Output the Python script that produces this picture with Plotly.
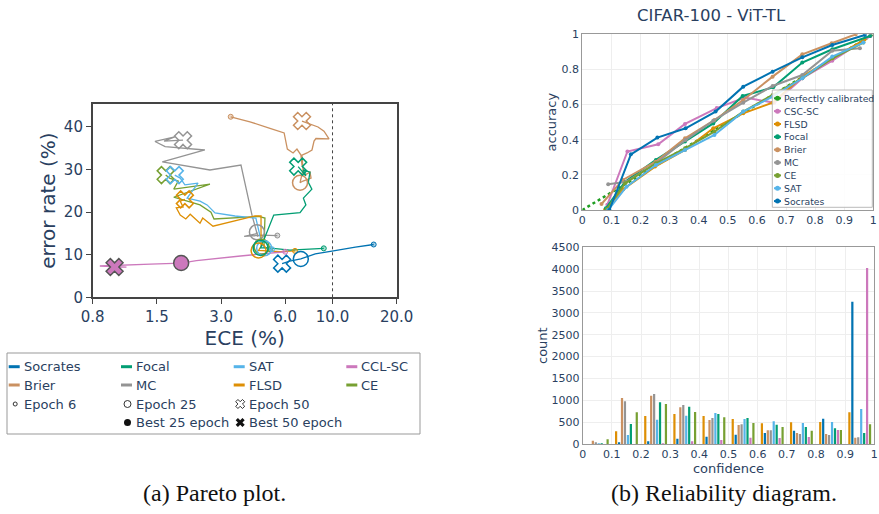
import math
import plotly.graph_objects as go

W, H = 879, 514
FONT = "DejaVu Sans"
TXT = "#2a3f5f"

COLORS = {
    "Socrates": "#0173B2", "Focal": "#029E73", "SAT": "#56B4E9", "CCL-SC": "#CC78BC",
    "Brier": "#CA9161", "MC": "#949494", "FLSD": "#DE8F05", "CE": "#77A032",
}

# ---------------- Pareto plot data (ECE %, error rate %) ----------------
socrates_ece = [15.6, 12.8, 10.1, 8.3, 7.1, 6.3, 5.8]
socrates_err = [12.4, 11.8, 10.9, 10.2, 9.0, 8.5, 7.9]
socrates_e25 = (7.1, 9.0)

cclsc_ece = [6.0, 5.1, 3.7, 2.3, 1.95, 1.4, 1.06, 0.81, 1.08, 0.95]
cclsc_err = [10.7, 10.4, 9.7, 8.6, 8.05, 7.8, 7.6, 7.35, 7.1, 7.1]
cclsc_e25 = (1.95, 8.05)

focal_ece = [9.1, 7.4, 6.3, 5.7, 5.0, 4.6, 4.77, 5.3, 7.04, 7.5, 7.3, 8.0, 7.7, 7.84, 7.3, 7.5, 6.9]
focal_err = [11.5, 11.2, 11.1, 11.3, 11.6, 11.6, 13.5, 19.3, 19.9, 21.7, 23.3, 25.4, 27.0, 29.4, 29.9, 28.5, 30.7]
focal_e25 = (4.6, 11.6)

flsd_ece = [6.67, 5.67, 4.5, 4.62, 4.62, 4.33, 2.75, 2.58, 2.46, 2.39, 2.26, 2.15, 2.05, 1.93, 1.85, 1.99, 1.93, 2.03]
flsd_err = [10.9, 10.75, 11.0, 12.0, 19.1, 19.1, 16.7, 17.7, 18.6, 17.4, 18.4, 19.5, 18.4, 19.3, 21.0, 21.2, 22.6, 23.0]
flsd_e25 = (4.5, 11.0)

sat_ece = [5.2, 4.82, 4.67, 4.37, 3.49, 2.81, 2.58, 2.39, 2.08, 2.34, 2.03, 1.93, 1.82]
sat_err = [11.3, 11.6, 12.3, 18.6, 19.1, 19.8, 21.7, 22.6, 23.3, 26.8, 26.4, 28.0, 28.7]
sat_e25 = (4.78, 11.5)

ce_ece = [5.09, 4.77, 4.82, 4.5, 2.78, 2.69, 2.39, 1.8, 2.66, 1.8, 1.89, 1.72, 1.65]
ce_err = [11.3, 11.8, 18.6, 19.0, 18.4, 20.0, 21.7, 23.5, 26.6, 25.4, 27.3, 28.0, 28.7]
ce_e25 = (4.65, 11.9)

mc_ece = [5.51, 4.67, 3.85, 4.37, 4.42, 4.47, 4.19, 3.72, 2.66, 1.59, 2.52, 1.64, 1.47, 1.82, 1.62, 1.99]
mc_err = [14.5, 14.6, 14.3, 14.9, 15.3, 14.2, 19.3, 31.06, 29.9, 31.8, 34.6, 35.4, 36.6, 37.7, 36.7, 36.9]
mc_e25 = (4.42, 15.3)

brier_ece = [3.33, 4.10, 5.09, 5.93, 6.14, 6.53, 6.81, 7.11, 7.19, 7.43, 7.84, 7.93, 7.27, 7.04,
             7.27, 7.19, 7.59, 8.01, 8.19, 8.36, 9.63, 9.12, 8.55, 7.19]
brier_err = [42.4, 41.2, 39.7, 38.6, 34.8, 33.9, 34.8, 33.4, 31.06, 28.7, 29.4, 28.0, 27.3, 26.9,
             29.9, 33.4, 33.9, 34.6, 36.7, 37.3, 37.2, 39.0, 40.0, 41.4]
brier_e25 = (7.04, 26.9)

pareto = [
    ("Brier", brier_ece, brier_err, brier_e25),
    ("MC", mc_ece, mc_err, mc_e25),
    ("CE", ce_ece, ce_err, ce_e25),
    ("SAT", sat_ece, sat_err, sat_e25),
    ("FLSD", flsd_ece, flsd_err, flsd_e25),
    ("Focal", focal_ece, focal_err, focal_e25),
    ("Socrates", socrates_ece, socrates_err, socrates_e25),
    ("CCL-SC", cclsc_ece, cclsc_err, cclsc_e25),
]
best_method = "CCL-SC"
ece_ticks = [0.75, 1.5, 3, 6, 10, 20]
ece_ticktext = ["0.8", "1.5", "3.0", "6.0", "10.0", "20.0"]
err_ticks = [0, 10, 20, 30, 40]
ece_threshold = 10

# ---------------- Reliability diagram data ----------------
rel_names = ["CSC-SC", "FLSD", "Focal", "Brier", "MC", "CE", "SAT", "Socrates"]
rel_colors = ["#CC78BC", "#DE8F05", "#029E73", "#CA9161", "#949494", "#77A032", "#56B4E9", "#0173B2"]
rel_conf = {
    "CSC-SC": [0.086, 0.155, 0.261, 0.353, 0.462, 0.559, 0.66, 0.756, 0.859, 0.99],
    "FLSD": [0.078, 0.141, 0.25, 0.353, 0.45, 0.553, 0.654, 0.756, 0.859, 0.97],
    "Focal": [0.081, 0.147, 0.253, 0.353, 0.45, 0.551, 0.656, 0.756, 0.859, 0.989],
    "Brier": [0.066, 0.139, 0.252, 0.353, 0.454, 0.553, 0.654, 0.756, 0.857, 0.94],
    "MC": [0.089, 0.152, 0.253, 0.355, 0.45, 0.553, 0.654, 0.756, 0.859, 0.954],
    "CE": [0.084, 0.147, 0.253, 0.353, 0.454, 0.553, 0.654, 0.756, 0.859, 0.966],
    "SAT": [0.089, 0.152, 0.253, 0.353, 0.454, 0.553, 0.654, 0.756, 0.859, 0.966],
    "Socrates": [0.093, 0.167, 0.258, 0.355, 0.458, 0.553, 0.654, 0.756, 0.859, 0.971],
}
rel_acc = {
    "CSC-SC": [0.03, 0.333, 0.374, 0.49, 0.58, 0.64, 0.61, 0.75, 0.85, 0.99],
    "FLSD": [0.0, 0.118, 0.247, 0.342, 0.465, 0.55, 0.611, 0.759, 0.863, 0.97],
    "Focal": [0.01, 0.161, 0.285, 0.39, 0.493, 0.649, 0.698, 0.839, 0.915, 0.99],
    "Brier": [0.034, 0.171, 0.275, 0.408, 0.512, 0.626, 0.759, 0.886, 0.949, 1.0],
    "MC": [0.146, 0.161, 0.266, 0.398, 0.508, 0.611, 0.706, 0.768, 0.907, 0.92],
    "CE": [0.005, 0.152, 0.266, 0.351, 0.446, 0.56, 0.655, 0.75, 0.863, 0.953],
    "SAT": [0.0, 0.133, 0.256, 0.342, 0.427, 0.56, 0.645, 0.75, 0.873, 0.953],
    "Socrates": [0.0, 0.317, 0.412, 0.465, 0.56, 0.702, 0.787, 0.869, 0.939, 0.996],
}

# ---------------- Confidence histogram data ----------------
bin_centers = [0.05, 0.15, 0.25, 0.35, 0.45, 0.55, 0.65, 0.75, 0.85, 0.95]
hist_order = ["FLSD", "Socrates", "Brier", "MC", "SAT", "Focal", "CCL-SC", "CE"]
hist_counts = {
    "FLSD": [0, 290, 640, 686, 640, 572, 473, 496, 503, 725],
    "Socrates": [0, 40, 61, 122, 168, 214, 252, 305, 580, 3257],
    "Brier": [75, 1053, 1106, 839, 549, 435, 313, 252, 229, 145],
    "MC": [40, 976, 1144, 892, 595, 450, 313, 229, 206, 152],
    "SAT": [15, 206, 557, 648, 709, 572, 519, 480, 503, 801],
    "Focal": [15, 458, 953, 854, 686, 595, 442, 389, 358, 252],
    "CCL-SC": [0, 0, 10, 61, 92, 145, 137, 160, 320, 4027],
    "CE": [110, 725, 915, 732, 610, 480, 389, 305, 320, 450],
}

fig = go.Figure()

def rgba(hexc, a):
    h = hexc.lstrip("#")
    return "rgba(%d,%d,%d,%.2f)" % (int(h[0:2], 16), int(h[2:4], 16), int(h[4:6], 16), a)

# ---- Pareto traces
for name, ece, err, e25 in pareto:
    col = COLORS[name]
    fig.add_trace(go.Scatter(x=ece, y=err, mode="lines", line=dict(color=col, width=1.3),
                             xaxis="x", yaxis="y", showlegend=False, hoverinfo="skip"))
for name, ece, err, e25 in pareto:
    col = COLORS[name]
    fig.add_trace(go.Scatter(x=[ece[0]], y=[err[0]], mode="markers",
                             marker=dict(symbol="circle", size=5, color=rgba(col, 0.35),
                                         line=dict(color=col, width=1)),
                             xaxis="x", yaxis="y", showlegend=False, hoverinfo="skip"))
    if name == best_method:
        m25 = dict(symbol="circle", size=15, color=col, line=dict(color="#555", width=1.5))
        m50 = dict(symbol="x", size=15, color=col, line=dict(color="#555", width=1.5))
    else:
        m25 = dict(symbol="circle-open", size=15, color=col, line=dict(width=1.5))
        m50 = dict(symbol="x-open", size=15, color=col, line=dict(width=1.5))
    fig.add_trace(go.Scatter(x=[e25[0]], y=[e25[1]], mode="markers", marker=m25,
                             xaxis="x", yaxis="y", showlegend=False, hoverinfo="skip"))
    fig.add_trace(go.Scatter(x=[ece[-1]], y=[err[-1]], mode="markers", marker=m50,
                             xaxis="x", yaxis="y", showlegend=False, hoverinfo="skip"))

# ---- Reliability traces
fig.add_trace(go.Scatter(x=[0, 1], y=[0, 1], mode="lines",
                         line=dict(color="#1f9e22", width=2.5, dash="dot"),
                         xaxis="x2", yaxis="y2", showlegend=False, hoverinfo="skip"))
for name, col in zip(rel_names, rel_colors):
    fig.add_trace(go.Scatter(x=rel_conf[name], y=rel_acc[name], mode="lines+markers",
                             line=dict(color=col, width=2), marker=dict(size=4, color=col),
                             xaxis="x2", yaxis="y2", showlegend=False, hoverinfo="skip"))

# ---- Histogram traces
for name in hist_order:
    fig.add_trace(go.Bar(x=bin_centers, y=hist_counts[name], marker=dict(color=COLORS[name], line=dict(width=0)),
                         xaxis="x3", yaxis="y3", showlegend=False, hoverinfo="skip"))

# ---- Overlay (pixel space) for hand-made legends
# left legend
col_x = [21.7, 134, 246.7, 359.3]
row_y = [366.7, 385, 404, 422.5]
LEG_FS = 13
line_items = [("Socrates", 0, 0), ("Focal", 1, 0), ("SAT", 2, 0), ("CCL-SC", 3, 0),
              ("Brier", 0, 1), ("MC", 1, 1), ("FLSD", 2, 1), ("CE", 3, 1)]
marker_items = [("Epoch 6", 0, 2, dict(symbol="circle-open", size=4, color="#333", line=dict(width=1))),
                ("Epoch 25", 1, 2, dict(symbol="circle-open", size=7, color="#333", line=dict(width=1))),
                ("Epoch 50", 2, 2, dict(symbol="x-open", size=8, color="#333", line=dict(width=1))),
                ("Best 25 epoch", 1, 3, dict(symbol="circle", size=7, color="#111")),
                ("Best 50 epoch", 2, 3, dict(symbol="x", size=8, color="#111"))]
for name, c, r in line_items:
    tx, ty = col_x[c], row_y[r]
    fig.add_trace(go.Scatter(x=[tx - 13, tx - 2], y=[ty, ty], mode="lines",
                             line=dict(color=COLORS[name], width=3), xaxis="x4", yaxis="y4",
                             showlegend=False, hoverinfo="skip"))
    fig.add_annotation(x=tx / W, y=1 - ty / H, xref="paper", yref="paper", text=name, showarrow=False,
                       xanchor="left", yanchor="middle", font=dict(family=FONT, size=LEG_FS, color=TXT))
for name, c, r, mk in marker_items:
    tx, ty = col_x[c], row_y[r]
    fig.add_trace(go.Scatter(x=[tx - 6.5], y=[ty], mode="markers", marker=mk, xaxis="x4", yaxis="y4",
                             showlegend=False, hoverinfo="skip"))
    fig.add_annotation(x=tx / W, y=1 - ty / H, xref="paper", yref="paper", text=name, showarrow=False,
                       xanchor="left", yanchor="middle", font=dict(family=FONT, size=LEG_FS, color=TXT))
fig.add_shape(type="rect", xref="paper", yref="paper", x0=7 / W, x1=420 / W, y0=1 - 434 / H, y1=1 - 353 / H,
              line=dict(color="#999", width=1))

# right legend (inside reliability plot)
bx0, bx1, by0, by1 = 772.3, 872.3, 90, 207.3
fig.add_trace(go.Scatter(x=[bx0, bx1, bx1, bx0, bx0], y=[by0, by0, by1, by1, by0], mode="lines",
                         fill="toself", fillcolor="rgba(255,255,255,0.85)", line=dict(color="#bbb", width=1),
                         xaxis="x4", yaxis="y4", showlegend=False, hoverinfo="skip"))
leg2 = [("Perfectly calibrated", "#1f9e22")] + list(zip(rel_names, rel_colors))
for i, (name, col) in enumerate(leg2):
    ty = 98.3 + i * 12.85
    fig.add_trace(go.Scatter(x=[774, 781], y=[ty, ty], mode="lines", line=dict(color=col, width=2),
                             xaxis="x4", yaxis="y4", showlegend=False, hoverinfo="skip"))
    fig.add_trace(go.Scatter(x=[777.5], y=[ty], mode="markers", marker=dict(size=5, color=col),
                             xaxis="x4", yaxis="y4", showlegend=False, hoverinfo="skip"))
    fig.add_annotation(x=782.3 / W, y=1 - ty / H, xref="paper", yref="paper", text=name, showarrow=False,
                       xanchor="left", yanchor="middle", font=dict(family=FONT, size=9.3, color=TXT))

# threshold line
fig.add_shape(type="line", xref="x", yref="y domain", x0=ece_threshold, x1=ece_threshold, y0=0, y1=1,
              line=dict(color="#444", width=1, dash="dot"))

# title and captions
fig.add_annotation(x=711 / W, y=1 - 15 / H, xref="paper", yref="paper", text="CIFAR-100 - ViT-TL",
                   showarrow=False, xanchor="center", yanchor="middle",
                   font=dict(family=FONT, size=16.5, color=TXT))
fig.add_annotation(x=214 / W, y=1 - 493 / H, xref="paper", yref="paper", text="(a) Pareto plot.",
                   showarrow=False, xanchor="center", yanchor="middle",
                   font=dict(family="Liberation Serif", size=24, color="#111"))
fig.add_annotation(x=723.5 / W, y=1 - 493 / H, xref="paper", yref="paper", text="(b) Reliability diagram.",
                   showarrow=False, xanchor="center", yanchor="middle",
                   font=dict(family="Liberation Serif", size=24, color="#111"))

frame_dark = dict(showline=True, mirror=True, linecolor="#444", linewidth=1.5, zeroline=False,
                  showgrid=False, ticks="outside", ticklen=5, tickcolor="#444")
frame_light = dict(showline=True, mirror=True, linecolor="#999", linewidth=1, zeroline=False,
                   showgrid=True, gridcolor="#eee", ticks="")

fig.update_layout(
    width=W, height=H, margin=dict(l=0, r=0, t=0, b=0, autoexpand=False),
    paper_bgcolor="white", plot_bgcolor="rgba(0,0,0,0)",
    font=dict(family=FONT, color=TXT), hovermode=False, showlegend=False,
    barmode="group", bargap=0.19, bargroupgap=0.25,
    xaxis=dict(domain=[92.7 / W, 396.7 / W], anchor="y", type="log",
               range=[math.log10(0.75), math.log10(20)], tickvals=ece_ticks, ticktext=ece_ticktext,
               tickfont=dict(size=15), title=dict(text="ECE (%)", font=dict(size=20), standoff=6), **frame_dark),
    yaxis=dict(domain=[1 - 297.3 / H, 1 - 104 / H], anchor="x", range=[0, 45.4], tickvals=err_ticks,
               tickfont=dict(size=15), title=dict(text="error rate (%)", font=dict(size=20), standoff=3), **frame_dark),
    xaxis2=dict(domain=[582.3 / W, 873.3 / W], anchor="y2", range=[0, 1], dtick=0.1, tick0=0,
                tickfont=dict(size=11), **frame_light),
    yaxis2=dict(domain=[1 - 210 / H, 1 - 34.3 / H], anchor="x2", range=[0, 1], dtick=0.2, tick0=0,
                tickfont=dict(size=11), title=dict(text="accuracy", font=dict(size=13), standoff=2), **frame_light),
    xaxis3=dict(domain=[582.7 / W, 874.3 / W], anchor="y3", range=[0, 1], dtick=0.1, tick0=0,
                tickfont=dict(size=11), title=dict(text="confidence", font=dict(size=13), standoff=0), **frame_light),
    yaxis3=dict(domain=[1 - 444 / H, 1 - 247.3 / H], anchor="x3", range=[0, 4500], dtick=500, tick0=0,
                tickfont=dict(size=11), title=dict(text="count", font=dict(size=13), standoff=0), **frame_light),
    xaxis4=dict(domain=[0, 1], anchor="y4", range=[0, W], visible=False, fixedrange=True),
    yaxis4=dict(domain=[0, 1], anchor="x4", range=[H, 0], visible=False, fixedrange=True),
)

fig.write_html("out.html")
